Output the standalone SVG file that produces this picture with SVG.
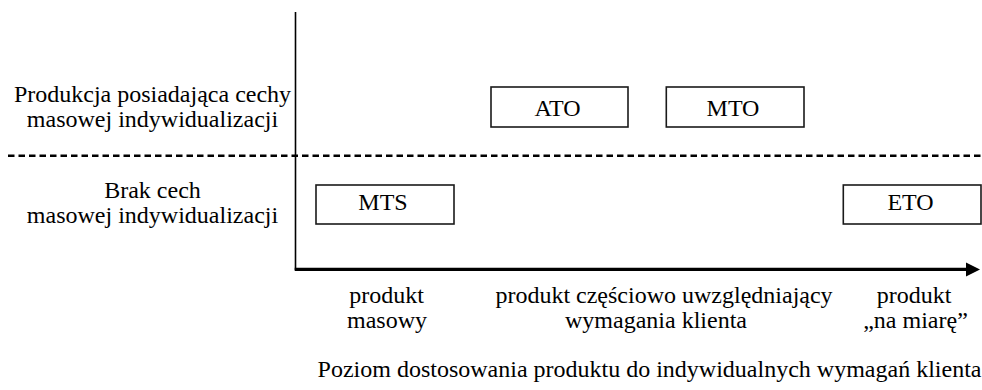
<svg xmlns="http://www.w3.org/2000/svg" width="982" height="390" viewBox="0 0 982 390">
<style>
text{font-family:"Liberation Serif","Times New Roman",serif;font-size:24px;fill:#000;text-anchor:middle}
.box{fill:#fff;stroke:#1a1a1a;stroke-width:1.6}
</style>
<rect width="982" height="390" fill="#fff"/>
<g id="connectors">
<line x1="295.5" y1="12" x2="295.5" y2="270" stroke="#000" stroke-width="1.6"/>
<line x1="294.7" y1="269.3" x2="967" y2="269.3" stroke="#000" stroke-width="3.2"/>
<polygon points="966,262.5 980,269.5 966,276.5" fill="#000"/>
<line x1="8" y1="155.7" x2="982" y2="155.7" stroke="#000" stroke-width="2.5" stroke-dasharray="6.5,4"/>
</g>
<g id="label-top">
<text x="152.5" y="101.7">Produkcja posiadająca cechy</text>
<text x="152.5" y="126.7">masowej indywidualizacji</text>
</g>
<g id="label-bottom">
<text x="152.5" y="198">Brak cech</text>
<text x="152.5" y="223">masowej indywidualizacji</text>
</g>
<g id="node-ato">
<rect class="box" x="491" y="87" width="137" height="40"/>
<text x="557.5" y="116">ATO</text>
</g>
<g id="node-mto">
<rect class="box" x="666.3" y="87" width="137.7" height="40"/>
<text x="733" y="116">MTO</text>
</g>
<g id="node-mts">
<rect class="box" x="316" y="185" width="138" height="39"/>
<text x="383" y="210">MTS</text>
</g>
<g id="node-eto">
<rect class="box" x="843.3" y="185" width="137.7" height="39"/>
<text x="910.5" y="210">ETO</text>
</g>
<g id="axis-labels">
<text x="386.5" y="302.5">produkt</text>
<text x="387" y="327.5">masowy</text>
<text x="664" y="302.5">produkt częściowo uwzględniający</text>
<text x="656" y="327.5">wymagania klienta</text>
<text x="914" y="302.5">produkt</text>
<text x="915.5" y="327.5">„na miarę”</text>
<text x="649.5" y="377">Poziom dostosowania produktu do indywidualnych wymagań klienta</text>
</g>
</svg>
